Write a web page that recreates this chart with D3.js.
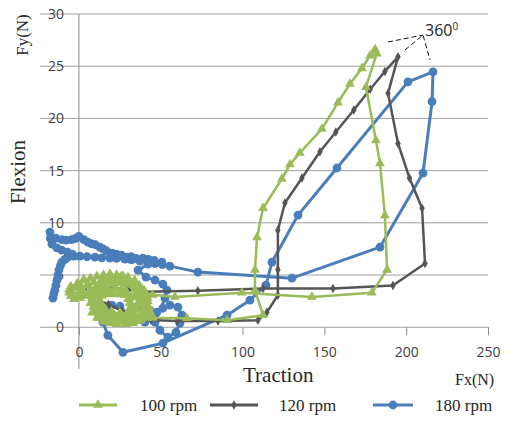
<!DOCTYPE html>
<html lang="en">
<head>
<meta charset="UTF-8">
<title>Traction / Flexion</title>
<script src="https://cdnjs.cloudflare.com/ajax/libs/d3/7.8.5/d3.min.js"></script>
<style>
	body { margin: 0; background: #fff; }
	.tick text { font-family: "Open Sans", sans-serif; font-size: 14px; fill: #404040; }
	.title { font-family: "Liberation Serif", serif; fill: #262626; }
	.legend text { font-family: "Liberation Serif", serif; font-size: 17px; fill: #262626; }
</style>
</head>
<body>
<div id="chart"></div>
<script>

	// axis ticks
	var xTicks = [0, 50, 100, 150, 200, 250];
	var yTicks = [0, 5, 10, 15, 20, 25, 30];
	var labels = ["100 rpm", "120 rpm", "180 rpm"];

	// [Fx, Fy], in drawing order
	var rpm100 = [
		// noisy tangle near the origin
		[44, 1.3], [42, 0.9], [40, 1.2], [37, 0.6], [35, 0.9], [33, 0.4], [30, 0.8], [28, 0.3], [26, 0.7], [23, 0.3],
		[21, 0.8], [19, 0.4], [17, 0.9], [15, 0.6], [13, 1.1], [11, 0.9], [10, 1.5], [8, 1.4], [9, 2.0], [7, 2.3],
		[8, 2.8], [6, 3.1], [8, 3.4], [10, 3.3], [11, 3.8], [13, 3.6], [14, 4.2], [16, 3.9], [18, 4.5], [20, 4.1],
		[22, 4.7], [24, 4.2], [26, 4.9], [28, 4.3], [30, 4.8], [32, 4.1], [34, 4.5], [35, 3.8], [37, 4.0], [38, 3.3],
		[40, 3.5], [40, 2.8], [42, 2.5], [41, 2.0], [43, 1.6], [41, 1.3],
		[39, 1.6], [37, 1.1], [34, 1.3], [32, 0.9], [29, 1.2], [27, 1.0], [25, 1.4], [22, 1.1], [20, 1.5], [18, 1.2],
		[16, 1.6], [14, 1.4], [13, 2.0], [12, 1.8], [12, 2.5], [11, 2.9], [13, 3.1], [14, 3.4], [16, 3.2], [18, 3.6],
		[20, 3.3], [22, 3.7], [24, 3.2], [26, 3.6], [28, 3.1], [29, 3.4], [30, 2.7], [32, 2.9], [31, 2.3], [33, 2.0],
		[31, 1.7], [33, 1.4], [35, 1.7], [36, 2.3], [38, 2.1], [37, 2.8], [36, 3.3], [34, 3.0],
		[10, 3.0], [7, 3.6], [4, 3.2], [2, 3.7], [0, 3.3], [-2, 3.8], [-4, 3.2], [-6, 3.6], [-5, 3.0], [-3, 2.7],
		[-1, 3.1], [1, 2.8], [3, 3.4], [1, 4.0], [3, 4.6], [5, 4.1], [7, 4.7], [9, 4.3], [11, 4.9], [13, 4.4],
		[15, 5.0], [17, 4.6], [19, 5.1], [21, 4.6], [23, 5.0], [25, 4.5], [27, 4.9],
		[45, 1.0], [38, 0.7], [31, 0.5], [24, 0.6], [17, 0.8], [12, 1.3], [9, 2.0], [9, 2.9], [12, 3.6], [17, 4.1],
		[23, 4.3], [29, 4.1], [34, 3.6], [38, 2.9], [40, 2.1], [38, 1.4], [33, 0.9], [27, 0.7], [20, 0.9], [14, 1.2],
		[11, 1.8], [10, 2.6], [6, 3.0], [1, 3.2], [-3, 3.0], [-6, 3.3], [-5, 3.9], [-1, 4.2], [3, 4.5], [6, 4.0],
		[8, 3.4], [11, 3.9], [15, 4.6], [20, 4.8], [25, 4.7], [30, 4.5], [35, 4.2], [39, 3.6], [42, 2.8], [43, 1.9],
		[41, 1.2], [36, 0.6], [29, 0.3], [22, 0.4], [16, 0.5], [12, 0.9], [13, 1.5], [14, 2.2], [14, 3.0], [18, 3.5],
		[23, 3.6], [28, 3.4], [31, 2.8], [32, 2.1], [30, 1.4], [26, 1.2], [21, 1.3], [17, 1.5], [35, 1.0], [45, 0.9],
		// out along the bottom, up, and back
		[66, 0.86], [90.5, 0.67], [112.5, 1.15], [107.6, 3.55], [107.6, 5.5], [108.8, 8.6], [112.5, 11.4], [124, 14.2],
		[129, 15.6], [135, 16.7], [148.5, 19], [158.3, 21.5], [165.6, 23.3], [173, 24.8], [177.9, 26.0], [181, 26.6],
		[182, 26.2], [175.4, 23], [181.5, 17.9], [184, 15.7], [187, 10.7], [188.3, 5.5], [179, 3.3], [142.4, 2.9],
		[99.6, 3.3], [58.7, 2.9], [45, 3.1], [38, 3.4]
	];

	var rpm120 = [
		[-4, 3.3], [2, 3.0], [10, 2.7], [18, 2.2], [26, 1.6], [34, 1.0], [44, 0.7], [60, 0.6], [85, 0.6], [109.4, 0.67],
		[114.9, 1.44], [121.6, 3.07], [121.6, 5.5], [121.6, 9.3], [125.9, 11.9], [136.3, 14.3], [147.3, 16.8], [157, 18.7],
		[168, 20.8], [178, 22.8], [187, 24.5], [195, 25.9], [188.9, 22.4], [195, 17.6], [202, 14.3], [209.7, 11.4],
		[211.5, 6.1], [191.9, 4.0], [155.3, 3.7], [112.5, 3.7], [72.7, 3.5], [40.3, 3.4], [30, 3.6], [20, 3.8],
		[10, 3.7], [4, 3.5]
	];

	var rpm180 = [
		[-15.9, 2.78], [-15.3, 3.2], [-14.7, 3.55], [-14, 4.0], [-13.4, 4.51], [-12.8, 5.0], [-12.2, 5.47], [-11.3, 5.9],
		[-10.4, 6.23], [-8.5, 6.5], [-6.7, 6.71], [-3, 6.8], [0.6, 6.81], [5, 6.75], [9.8, 6.71], [14, 6.65], [18.9, 6.62],
		[23, 6.6], [28.1, 6.52], [32, 6.45], [37.3, 6.33], [42, 6.25], [46.4, 6.14], [51, 6.0], [55.6, 5.85], [72.7, 5.28],
		[130.2, 4.70], [184, 7.67], [210.3, 14.77], [215.8, 21.6], [216.4, 24.45], [201.1, 23.5], [157.7, 15.25],
		[133.9, 10.74], [118, 6.23], [114.3, 4.03], [104.5, 2.59], [90.5, 1.15], [51.3, -1.53], [26.9, -2.4],
		[17.7, -0.77], [14.7, 0.48], [16.5, 1.63], [20.2, 2.11], [25.1, 2.01], [29.9, 1.25], [34.8, 0.67], [40.3, 0.48],
		[39.1, 1.82], [43.4, 1.63], [47.7, 1.44], [51.3, 1.82], [55.6, 2.11], [60.5, 1.92], [63, 1.15], [61.7, 0.38],
		[59.3, -0.48], [54.4, -0.96], [49.5, -0.29], [46.5, 0.48], [52.6, 2.78], [53.8, 3.55], [51.3, 4.12], [46.5, 4.51],
		[41, 4.8], [36.1, 5.47], [42.2, 6.04], [46.5, 6.1], [50.7, 6.23], [46, 6.4], [42.5, 6.5], [39.1, 6.62], [35, 6.6],
		[32, 6.75], [29.3, 6.71], [26, 6.9], [23, 7.0], [20.2, 7.1], [17, 7.3], [14.8, 7.5], [12.8, 7.67], [10, 7.9],
		[7.5, 8.0], [5.5, 8.15], [3, 8.4], [0, 8.7], [-2, 8.5], [-4.5, 8.4], [-7.9, 8.35], [-10.5, 8.4], [-14.1, 8.54],
		[-17.7, 9.11], [-17.5, 8.5], [-16.5, 7.96], [-13.5, 7.6], [-10.4, 7.38], [-7, 7.2], [-4, 7.0]
	];

	var w = 505;
	var h = 421;

	var x = d3.scaleLinear().domain([-25, 250]).range([38, 488]);
	var y = d3.scaleLinear().domain([-4, 30]).range([369, 14]);

	var svg = d3.select("#chart").append("svg")
		.attr("width", w)
		.attr("height", h)
		.style("background", "#fff");

	// gridlines
	svg.append("g").selectAll("line")
		.data(yTicks)
		.enter().append("line")
		.attr("x1", x(-23.8)).attr("x2", x(250))
		.attr("y1", function (d) { return y(d); })
		.attr("y2", function (d) { return y(d); })
		.attr("stroke", "#a0a0a0")
		.attr("stroke-width", 1);

	// vertical axis line, crossing at Fx = 0
	svg.append("line")
		.attr("x1", x(0)).attr("x2", x(0))
		.attr("y1", y(30)).attr("y2", y(-4))
		.attr("stroke", "#8c8c8c")
		.attr("stroke-width", 1);

	// x axis sits on Fy = 0
	var xAxis = svg.append("g")
		.attr("transform", "translate(0," + y(0) + ")")
		.call(d3.axisBottom(x).tickValues(xTicks).tickSize(8).tickSizeOuter(0).tickPadding(12));
	xAxis.select(".domain").remove();
	xAxis.selectAll(".tick line").attr("stroke", "#8c8c8c");

	// y labels on the left side
	var yAxis = svg.append("g")
		.attr("transform", "translate(64,0)")
		.call(d3.axisLeft(y).tickValues(yTicks).tickSize(0).tickPadding(0));
	yAxis.select(".domain").remove();

	// series: blue first, green on top
	var series = [
		{ data: rpm180, color: "#4a7ebb", width: 3, mark: "circle" },
		{ data: rpm120, color: "#555555", width: 2.5, mark: "diamond" },
		{ data: rpm100, color: "#9bbb59", width: 2.5, mark: "triangle" }
	];

	var line = d3.line()
		.x(function (d) { return x(d[0]); })
		.y(function (d) { return y(d[1]); });

	function addMarker(sel, s) {
		if (s.mark == "circle") {
			sel.append("circle").attr("r", 4.4).attr("fill", s.color);
		} else if (s.mark == "diamond") {
			sel.append("path").attr("d", d3.symbol(d3.symbolDiamond).size(26)).attr("fill", s.color);
		} else {
			sel.append("path").attr("d", d3.symbol(d3.symbolTriangle).size(42)).attr("fill", s.color);
		}
	}

	series.forEach(function (s) {
		svg.append("path")
			.datum(s.data)
			.attr("d", line)
			.attr("fill", "none")
			.attr("stroke", s.color)
			.attr("stroke-width", s.width)
			.attr("stroke-linejoin", "round");

		var pts = svg.append("g").selectAll("g")
			.data(s.data)
			.enter().append("g")
			.attr("transform", function (d) { return "translate(" + x(d[0]) + "," + y(d[1]) + ")"; });
		addMarker(pts, s);
	});

	// axis titles
	svg.append("text").attr("class", "title")
		.attr("transform", "translate(28,35) rotate(-90)")
		.attr("text-anchor", "middle")
		.style("font-size", "17px")
		.text("Fy(N)");
	svg.append("text").attr("class", "title")
		.attr("transform", "translate(25,172) rotate(-90)")
		.attr("text-anchor", "middle")
		.style("font-size", "21px")
		.text("Flexion");
	svg.append("text").attr("class", "title")
		.attr("x", 243).attr("y", 382)
		.style("font-size", "21px")
		.text("Traction");
	svg.append("text").attr("class", "title")
		.attr("x", 455).attr("y", 385)
		.style("font-size", "16px")
		.text("Fx(N)");

	// 360 degree note with dashed pointer
	var note = svg.append("text")
		.attr("x", 425).attr("y", 36)
		.style("font-family", "'Open Sans', sans-serif")
		.style("font-size", "16px")
		.attr("fill", "#262626")
		.text("360");
	note.append("tspan").attr("dy", -6).style("font-size", "10px").text("0");

	svg.append("path")
		.attr("d", "M388,42L423,35M405,50L423,35L430,60")
		.attr("fill", "none")
		.attr("stroke", "#111")
		.attr("stroke-width", 1)
		.attr("stroke-dasharray", "5,3");

	// legend
	var legendX = [{ x1: 79, x2: 117, tx: 140 }, { x1: 210, x2: 258, tx: 279 }, { x1: 373, x2: 413, tx: 435 }];
	var order = [2, 1, 0];
	var legend = svg.append("g").attr("class", "legend");
	labels.forEach(function (lab, i) {
		var s = series[order[i]];
		var p = legendX[i];
		legend.append("line")
			.attr("x1", p.x1).attr("x2", p.x2)
			.attr("y1", 405).attr("y2", 405)
			.attr("stroke", s.color)
			.attr("stroke-width", 3);
		var m = legend.append("g").attr("transform", "translate(" + (p.x1 + p.x2) / 2 + ",405)");
		addMarker(m, s);
		legend.append("text").attr("x", p.tx).attr("y", 411).text(lab);
	});

</script>
</body>
</html>
